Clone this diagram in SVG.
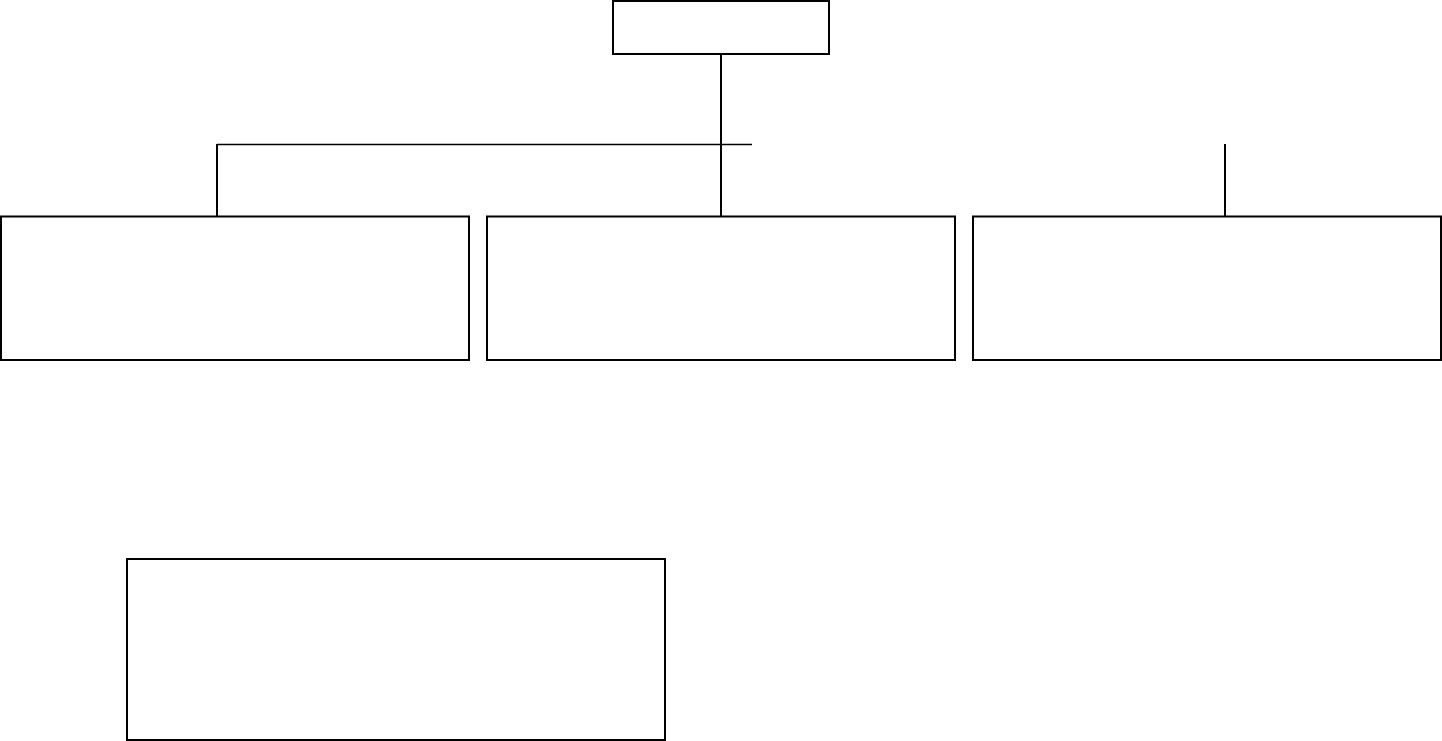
<svg xmlns="http://www.w3.org/2000/svg" width="1442" height="741" viewBox="0 0 1442 741">
<style>
.box{fill:#fff;stroke:#000;stroke-width:2}
.conn{fill:none;stroke:#000;stroke-width:2}
.thin{fill:none;stroke:#000;stroke-width:1.4}
</style>
<rect width="1442" height="741" fill="#fff"/>
<g id="connectors">
<line class="conn" x1="721" y1="54" x2="721" y2="216"/>
<line class="thin" x1="217" y1="144.5" x2="752" y2="144.5"/>
<line class="conn" x1="217" y1="144" x2="217" y2="216"/>
<line class="conn" x1="1225" y1="144" x2="1225" y2="216"/>
</g>
<g id="node-top"><rect class="box" x="613" y="1" width="216" height="53"/></g>
<g id="node-left"><rect class="box" x="1" y="216.5" width="468" height="143.5"/></g>
<g id="node-middle"><rect class="box" x="487" y="216.5" width="468" height="143.5"/></g>
<g id="node-right"><rect class="box" x="973" y="216.5" width="468" height="143.5"/></g>
<g id="node-bottom"><rect class="box" x="127" y="559" width="538" height="181"/></g>
</svg>
